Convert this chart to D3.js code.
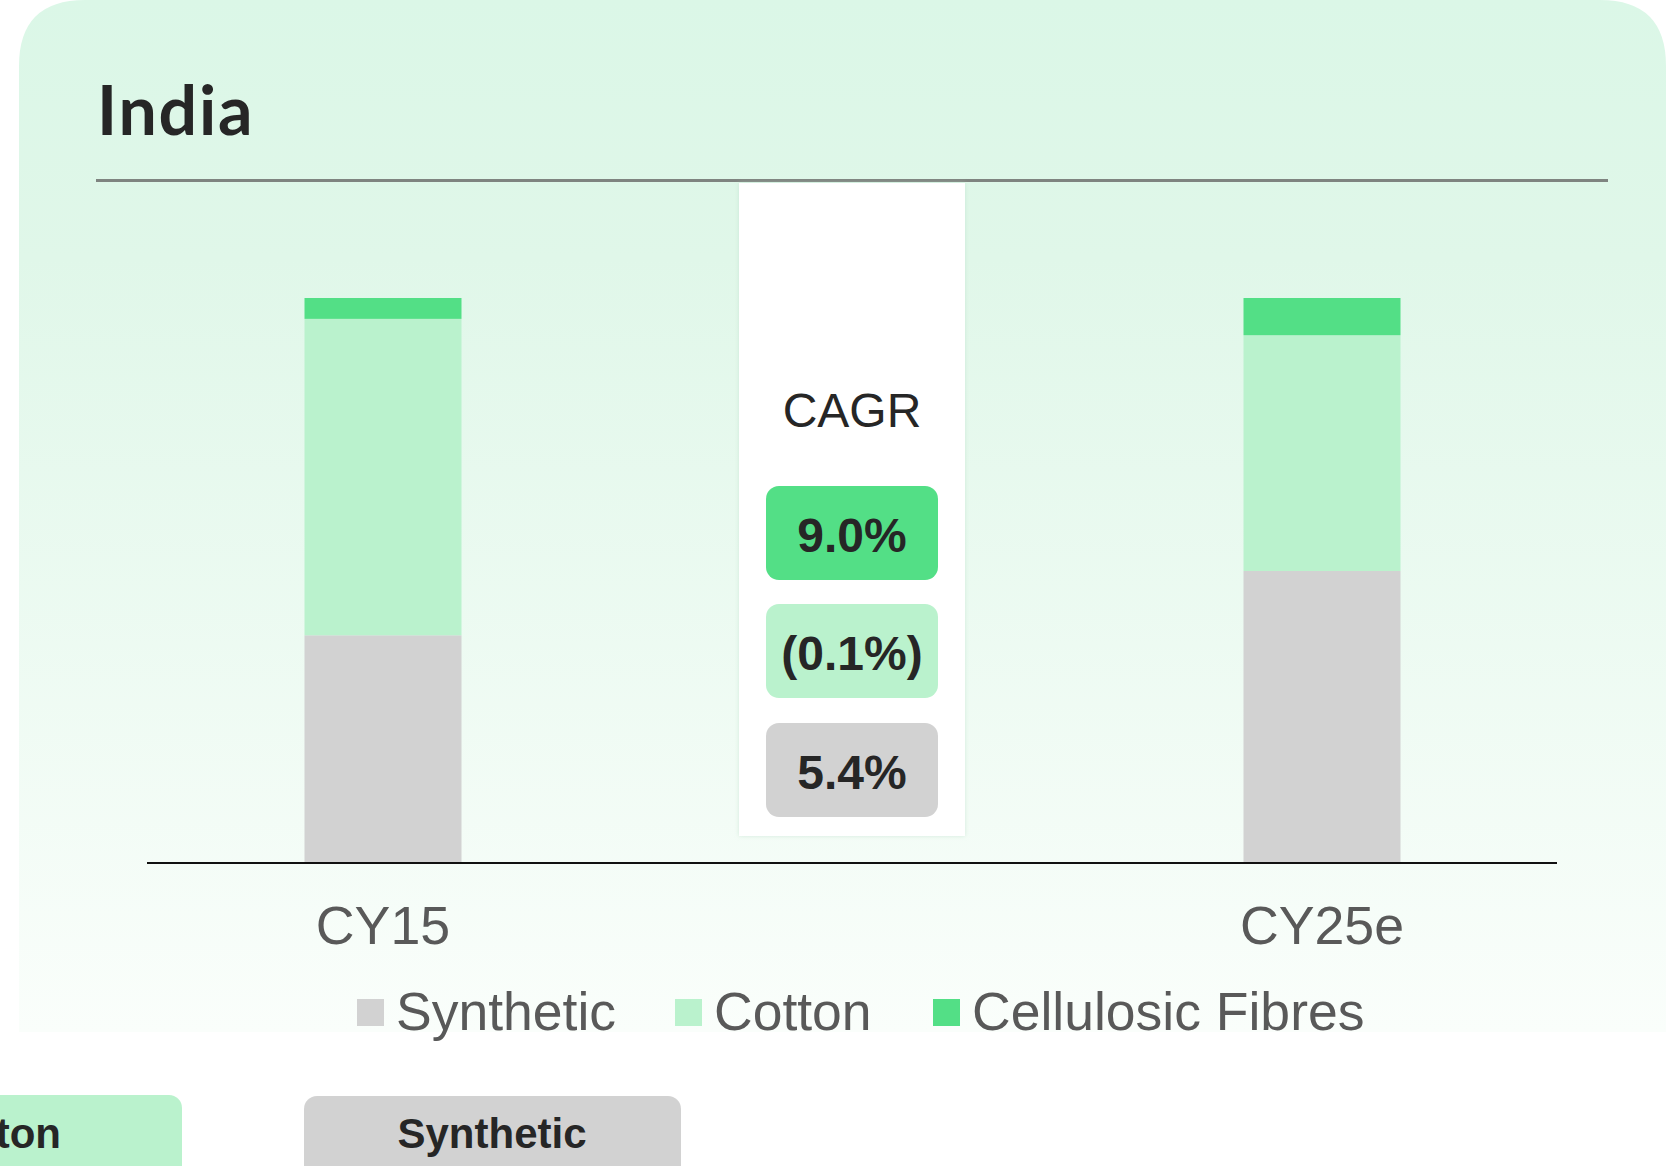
<!DOCTYPE html>
<html><head><meta charset="utf-8">
<script src="https://cdn.jsdelivr.net/npm/d3@7"></script>
<style>html,body{margin:0;padding:0;background:#fff;overflow:hidden}</style>
</head><body>
<svg id="c" width="1666" height="1166"></svg>
<script>
const title = "India";
const categories = ["CY15", "CY25e"];
const seriesNames = ["Synthetic", "Cotton", "Cellulosic Fibres"];
const synthetic = [40.2, 51.6];
const cotton = [56.1, 41.8];
const cellulosic = [3.7, 6.6];
const cagrLabels = ["9.0%", "(0.1%)", "5.4%"];
const bottomLabels = ["Cotton", "Synthetic"];

const colors = {"Synthetic":"#d2d2d2","Cotton":"#baf2cd","Cellulosic Fibres":"#53df86"};
const svg = d3.select("#c");
const defs = svg.append("defs");
const g1 = defs.append("linearGradient").attr("id","bg").attr("x1",0).attr("y1",0).attr("x2",0).attr("y2",1);
g1.append("stop").attr("offset","0%").attr("stop-color","#dbf7e7");
g1.append("stop").attr("offset","25%").attr("stop-color","#e0f7e9");
g1.append("stop").attr("offset","100%").attr("stop-color","#fafefb");
const f = defs.append("filter").attr("id","sh").attr("x","-10%").attr("y","-10%").attr("width","120%").attr("height","120%");
f.append("feDropShadow").attr("dx",0).attr("dy",0).attr("stdDeviation",2).attr("flood-color","#b0d8bf").attr("flood-opacity",0.5);

// panel
svg.append("path").attr("fill","url(#bg)")
  .attr("d", (()=>{const x0=19,y0=0,x1=1700,y1=1032,r=66;
    return `M${x0},${y1} L${x0},${y0+r} Q${x0},${y0} ${x0+r},${y0} L${1600},${y0} Q1666,0 1666,66 L${x1},${y1} Z`;})());

svg.append("text").text(title).attr("x",97).attr("y",135)
  .attr("font-family","Lato, 'Noto Sans', sans-serif").attr("font-weight",700)
  .attr("font-size",68).attr("letter-spacing",1.8).attr("fill","#262626");
svg.append("line").attr("x1",96).attr("x2",1608).attr("y1",180.5).attr("y2",180.5)
  .attr("stroke","#7f8480").attr("stroke-width",3);

// CAGR column
svg.append("rect").attr("x",739).attr("y",183).attr("width",226).attr("height",653)
  .attr("fill","#fff").attr("filter","url(#sh)");

const barW = 157;
const cx = {"CY15":383, "CY25e":1322};
const y = d3.scaleLinear().domain([0,100]).range([862,298]);

const table = categories.map((c,i)=>({cat:c,"Synthetic":synthetic[i],"Cotton":cotton[i],"Cellulosic Fibres":cellulosic[i]}));
const stack = d3.stack().keys(seriesNames)(table);
svg.append("g").selectAll("g").data(stack).join("g").attr("fill",d=>colors[d.key])
  .selectAll("rect").data(d=>d).join("rect")
  .attr("x",d=>cx[d.data.cat]-barW/2).attr("width",barW)
  .attr("y",d=>y(d[1])).attr("height",d=>y(d[0])-y(d[1]));

svg.append("line").attr("x1",147).attr("x2",1557).attr("y1",863).attr("y2",863)
  .attr("stroke","#111").attr("stroke-width",2);

svg.append("g").selectAll("text").data(categories).join("text")
  .attr("x",d=>cx[d]).attr("y",944).attr("text-anchor","middle")
  .attr("font-family","'Liberation Sans', Arial, sans-serif").attr("font-size",53.7)
  .attr("fill","#595959").text(d=>d);

// CAGR
svg.append("text").text("CAGR").attr("x",852).attr("y",427).attr("text-anchor","middle")
  .attr("font-family","'Liberation Sans', Arial, sans-serif").attr("font-size",48).attr("fill","#262626");
const boxColors = [colors["Cellulosic Fibres"], colors["Cotton"], colors["Synthetic"]];
const boxY = [486, 604, 723];
cagrLabels.forEach((t,i)=>{
  svg.append("rect").attr("x",766).attr("y",boxY[i]).attr("width",172).attr("height",94).attr("rx",13)
    .attr("fill",boxColors[i]);
  svg.append("text").text(t).attr("x",852).attr("y",boxY[i]+66).attr("text-anchor","middle")
    .attr("font-family","'Liberation Sans', Arial, sans-serif").attr("font-weight",700)
    .attr("font-size",48).attr("fill","#262626");
});

// legend
const legX = [357, 675, 933];
seriesNames.forEach((s,i)=>{
  svg.append("rect").attr("x",legX[i]).attr("y",999).attr("width",27).attr("height",27).attr("fill",colors[s]);
  svg.append("text").text(s).attr("x",legX[i]+39).attr("y",1030)
    .attr("font-family","'Liberation Sans', Arial, sans-serif").attr("font-size",53.5).attr("fill","#595959");
});

// bottom partial buttons
svg.append("rect").attr("x",-200).attr("y",1095).attr("width",382).attr("height",120).attr("rx",13).attr("fill",colors["Cotton"]);
svg.append("text").text(bottomLabels[0]).attr("x",61).attr("y",1148).attr("text-anchor","end")
  .attr("font-family","'Liberation Sans', Arial, sans-serif").attr("font-weight",700).attr("font-size",42).attr("fill","#262626");
svg.append("rect").attr("x",304).attr("y",1096).attr("width",377).attr("height",120).attr("rx",13).attr("fill",colors["Synthetic"]);
svg.append("text").text(bottomLabels[1]).attr("x",492).attr("y",1148).attr("text-anchor","middle")
  .attr("font-family","'Liberation Sans', Arial, sans-serif").attr("font-weight",700).attr("font-size",42).attr("fill","#262626");
</script>
</body></html>
